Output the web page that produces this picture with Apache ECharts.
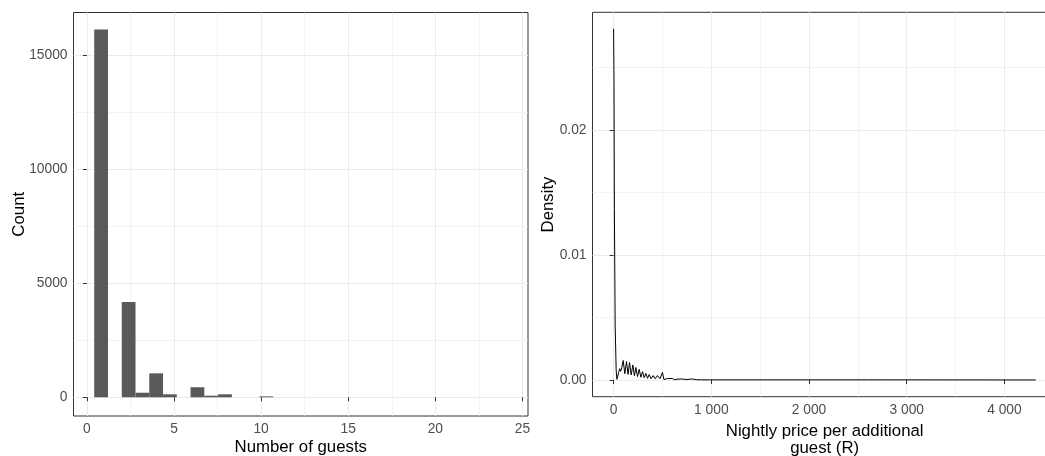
<!DOCTYPE html>
<html>
<head>
<meta charset="utf-8">
<script src="https://cdn.jsdelivr.net/npm/echarts@6.0.0/dist/echarts.min.js"></script>
<style>
html,body{margin:0;padding:0;background:#fff;}
#chart{width:1045px;height:456px;}
</style>
</head>
<body>
<div id="chart"></div>
<script>
// ---- Left panel: histogram of number of guests ----
const binStart = [0.42, 1.21, 2.00, 2.79, 3.58, 4.37, 5.16, 5.95, 6.74, 7.53, 8.32, 9.11, 9.90];
const binEnd   = [1.21, 2.00, 2.79, 3.58, 4.37, 5.16, 5.95, 6.74, 7.53, 8.32, 9.11, 9.90, 10.69];
const binCount = [16110, 0, 4170, 200, 1050, 130, 0, 440, 70, 130, 0, 0, 40];
const leftXTicks = [0, 5, 10, 15, 20, 25];
const leftXMinor = [2.5, 7.5, 12.5, 17.5, 22.5];
const leftYTicks = [0, 5000, 10000, 15000];
const leftYMinor = [2500, 7500, 12500];

// ---- Right panel: density of nightly price per additional guest ----
const priceX = [0, 4, 8, 16, 26, 34, 42, 52, 62, 72, 84, 98, 115, 132, 148, 163, 180, 197, 213, 228, 245, 262, 279, 296, 313, 330, 347, 364, 384, 404, 426, 449, 475, 500, 515, 540, 560, 600, 625, 650, 700, 750, 800, 850, 900, 980, 1000, 1020, 1480, 1500, 1520, 1990, 2000, 2010, 2600, 4320];
const densityY = [0.0281, 0.0241, 0.0137, 0.0044, 0.0008, 0.00005, 0.0002, 0.0006, 0.0009, 0.0007, 0.0010, 0.00155, 0.0005, 0.00147, 0.00045, 0.0014, 0.0004, 0.0012, 0.00033, 0.0010, 0.00027, 0.00085, 0.00022, 0.00067, 0.00018, 0.00053, 0.00013, 0.00043, 0.0001, 0.00035, 0.0001, 0.00035, 0.0001, 0.0006, 0.00003, 0.0001, 0.00002, 0.00012, 0.00002, 0.00006, 0.00008, 0.00003, 0.00008, 0.00002, 0.00001, 0.00001, 0.00012, 0.00001, 0.00001, 0.00008, 0.00001, 0.00001, 0.00004, 0.00001, 0.00001, 0.0];
const rightXTicks = [0, 1000, 2000, 3000, 4000];
const rightXMinor = [500, 1500, 2500, 3500];
const rightYTicks = [0, 0.01, 0.02];
const rightYMinor = [0.005, 0.015, 0.025];

const FONT = 'Liberation Sans, Arial, sans-serif';
const LABEL_SIZE = 13.8;
const histData = binStart.map((s, i) => [s, binEnd[i], binCount[i]]);
const densData = priceX.map((x, i) => [x, densityY[i]]);

function mainAxis(extra) {
  return Object.assign({
    type: 'value',
    axisLine: { show: false },
    axisTick: { show: true, length: 4, lineStyle: { color: '#333333', width: 1 } },
    axisLabel: { color: '#4D4D4D', fontSize: LABEL_SIZE, fontFamily: FONT, margin: 6 },
    splitLine: { show: true, lineStyle: { color: '#EBEBEB', width: 1 } },
    nameTextStyle: { color: '#000', fontSize: 16.8, fontFamily: FONT },
    nameLocation: 'middle',
    nameMoveOverlap: false
  }, extra);
}
function minorAxis(extra) {
  return Object.assign({
    type: 'value',
    axisLine: { show: false },
    axisTick: { show: false },
    axisLabel: { show: false },
    splitLine: { show: true, lineStyle: { color: '#EBEBEB', width: 0.6 } }
  }, extra);
}

const option = {
  backgroundColor: '#ffffff',
  animation: false,
  grid: [
    { left: 73.5, right: 517, top: 12.5, bottom: 40, show: true, borderColor: '#333333', borderWidth: 1, backgroundColor: 'transparent', containLabel: false, outerBoundsMode: 'none' },
    { left: 592.5, right: -11.8, top: 12.3, bottom: 59.3, show: true, borderColor: '#333333', borderWidth: 1, backgroundColor: 'transparent', containLabel: false, outerBoundsMode: 'none' }
  ],
  xAxis: [
    mainAxis({ gridIndex: 0, min: -0.77, max: 25.32, name: 'Number of guests', nameGap: 23,
      axisTick: { show: true, length: 4, customValues: leftXTicks, lineStyle: { color: '#333333' } },
      axisLabel: { color: '#4D4D4D', fontSize: LABEL_SIZE, fontFamily: FONT, margin: 6, customValues: leftXTicks, formatter: v => String(v) } }),
    minorAxis({ gridIndex: 0, min: -0.77, max: 25.32, axisTick: { show: false, customValues: leftXMinor } }),
    mainAxis({ gridIndex: 1, min: -216, max: 4536, name: 'Nightly price per additional\nguest (R)', nameGap: 26,
      nameTextStyle: { color: '#000', fontSize: 16.8, fontFamily: FONT, lineHeight: 17 },
      axisTick: { show: true, length: 4, customValues: rightXTicks, lineStyle: { color: '#333333' } },
      axisLabel: { color: '#4D4D4D', fontSize: LABEL_SIZE, fontFamily: FONT, margin: 6, customValues: rightXTicks,
        formatter: v => String(v).replace(/\B(?=(\d{3})+(?!\d))/g, ' ') } }),
    minorAxis({ gridIndex: 1, min: -216, max: 4536, axisTick: { show: false, customValues: rightXMinor } })
  ],
  yAxis: [
    mainAxis({ gridIndex: 0, min: -820, max: 16860, name: 'Count', nameGap: 46,
      axisTick: { show: true, length: 4, customValues: leftYTicks, lineStyle: { color: '#333333' } },
      axisLabel: { color: '#4D4D4D', fontSize: LABEL_SIZE, fontFamily: FONT, margin: 6, customValues: leftYTicks, formatter: v => String(v) } }),
    minorAxis({ gridIndex: 0, min: -820, max: 16860, axisTick: { show: false, customValues: leftYMinor } }),
    mainAxis({ gridIndex: 1, min: -0.00134, max: 0.02942, name: 'Density', nameGap: 36,
      axisTick: { show: true, length: 4, customValues: rightYTicks, lineStyle: { color: '#333333' } },
      axisLabel: { color: '#4D4D4D', fontSize: LABEL_SIZE, fontFamily: FONT, margin: 6, customValues: rightYTicks,
        formatter: v => v.toFixed(2) } }),
    minorAxis({ gridIndex: 1, min: -0.00134, max: 0.02942, axisTick: { show: false, customValues: rightYMinor } })
  ],
  series: [
    {
      type: 'custom',
      xAxisIndex: 0, yAxisIndex: 0,
      data: histData,
      encode: { x: [0, 1], y: 2 },
      renderItem: function (params, api) {
        const p0 = api.coord([api.value(0), api.value(2)]);
        const p1 = api.coord([api.value(1), 0]);
        return {
          type: 'rect',
          shape: { x: p0[0], y: p0[1], width: p1[0] - p0[0], height: p1[1] - p0[1] },
          style: { fill: '#595959' }
        };
      }
    },
    {
      type: 'line',
      xAxisIndex: 2, yAxisIndex: 2,
      data: densData,
      symbol: 'none',
      lineStyle: { color: '#000000', width: 1 }
    }
  ]
};

const chart = echarts.init(document.getElementById('chart'), null, { renderer: 'canvas' });
chart.setOption(option);
</script>
</body>
</html>
